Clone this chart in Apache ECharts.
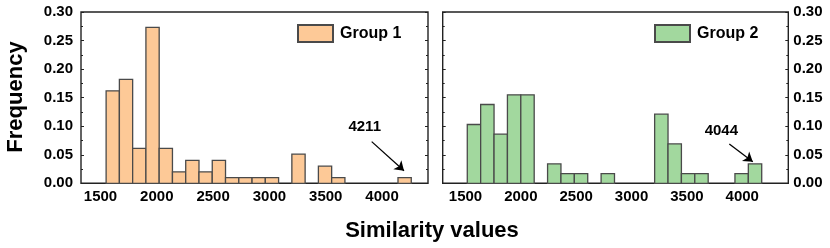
<!DOCTYPE html>
<html>
<head>
<meta charset="utf-8">
<script src="https://cdn.jsdelivr.net/npm/echarts@6/dist/echarts.min.js"></script>
<style>html,body{margin:0;padding:0;background:#fff}#c{width:830px;height:248px}</style>
</head>
<body>
<div id="c"></div>
<script>
// ---- data ----
const group1Name = 'Group 1';
const group2Name = 'Group 2';
const group1BinStart = 1550, group1BinWidth = 117.8;
const group2BinStart = 1516, group2BinWidth = 120.9;
const group1Freq = [0.162, 0.182, 0.061, 0.273, 0.061, 0.020, 0.040, 0.020, 0.040, 0.010, 0.010, 0.010, 0.010, 0, 0.051, 0, 0.030, 0.010, 0, 0, 0, 0, 0.010];
const group2Freq = [0.103, 0.138, 0.086, 0.155, 0.155, 0, 0.034, 0.017, 0.017, 0, 0.017, 0, 0, 0, 0.121, 0.069, 0.017, 0.017, 0, 0, 0.017, 0.034];
const xTicks = [1500, 2000, 2500, 3000, 3500, 4000];
const yTicks = [0, 0.05, 0.10, 0.15, 0.20, 0.25, 0.30];
const group1Outlier = '4211';
const group2Outlier = '4044';
const xTitle = 'Similarity values';
const yTitle = 'Frequency';

// ---- annotation placement (data coords) ----
const ann1 = {text: [3846, 0.0986], from: [3908, 0.073], to: [4195, 0.022]};
const ann2 = {text: [3811, 0.0923], from: [3883, 0.0687], to: [4095, 0.0378]};

const FONT = '"Liberation Sans", Arial, Helvetica, sans-serif';
const C1 = '#FDC997', C2 = '#A2D89E', EDGE = '#4a4a4a';

function bins(start, width, freq) {
  return freq.map((f, i) => [start + i * width, start + (i + 1) * width, f]);
}
function renderBar(fill) {
  return function (params, api) {
    const y = api.value(2);
    if (!y) return null;
    const p0 = api.coord([api.value(0), y]);
    const p1 = api.coord([api.value(1), 0]);
    return {
      type: 'rect',
      shape: {x: p0[0], y: p0[1], width: p1[0] - p0[0], height: p1[1] - p0[1]},
      style: {fill: fill, stroke: EDGE, lineWidth: 1.3}
    };
  };
}
function xAxisFor(gi, min, max) {
  return {
    type: 'value', gridIndex: gi, min: min, max: max,
    axisLine: {show: false}, axisTick: {show: false}, splitLine: {show: false},
    axisLabel: {customValues: xTicks, margin: 6, fontFamily: FONT, fontWeight: 'bold', fontSize: 15, color: '#000',
      formatter: v => String(Math.round(v))}
  };
}
function yAxisFor(gi, pos, labels, margin) {
  return {
    type: 'value', gridIndex: gi, position: pos, min: 0, max: 0.30, interval: 0.05,
    axisLine: {show: false}, splitLine: {show: false},
    axisTick: {show: true, inside: true, length: 3, lineStyle: {color: '#222', width: 1}},
    minorTick: {show: true, splitNumber: 2, length: 2, lineStyle: {color: '#222', width: 1}},
    axisLabel: {show: labels, margin: margin, fontFamily: FONT, fontWeight: 'bold', fontSize: 15, color: '#000',
      formatter: v => v.toFixed(2)}
  };
}
function annotation(a, label) {
  return {
    markLine: {
      silent: true, symbol: ['none', 'arrow'], symbolSize: 9, animation: false,
      lineStyle: {color: '#000', width: 1.3, type: 'solid'},
      label: {show: false},
      data: [[{coord: a.from}, {coord: a.to}]]
    },
    markPoint: {
      silent: true, symbol: 'circle', symbolSize: 1, animation: false,
      itemStyle: {color: 'rgba(0,0,0,0)'},
      label: {show: true, position: 'inside', formatter: label, fontFamily: FONT, fontWeight: 'bold', fontSize: 15, color: '#000'},
      data: [{coord: a.text}]
    }
  };
}

const chart = echarts.init(document.getElementById('c'), null, {renderer: 'canvas'});
chart.setOption({
  animation: false,
  textStyle: {fontFamily: FONT},
  grid: [
    {left: 81, top: 12, width: 347, height: 171.3, show: true, borderColor: '#222', borderWidth: 1.4, backgroundColor: 'transparent'},
    {left: 442.7, top: 12, width: 345.6, height: 171.3, show: true, borderColor: '#222', borderWidth: 1.4, backgroundColor: 'transparent'}
  ],
  xAxis: [xAxisFor(0, 1327, 4408), xAxisFor(1, 1294, 4416)],
  yAxis: [
    yAxisFor(0, 'left', true, 8),
    yAxisFor(0, 'right', false, 8),
    yAxisFor(1, 'left', false, 8),
    yAxisFor(1, 'right', true, 5)
  ],
  legend: [
    {data: [group1Name], left: 297, top: 24, itemWidth: 35, itemHeight: 17, itemGap: 0,
     textStyle: {fontFamily: FONT, fontWeight: 'bold', fontSize: 16, color: '#000', padding: [0, 0, 0, 2]},
     icon: 'rect', padding: 0},
    {data: [group2Name], left: 654, top: 24, itemWidth: 35, itemHeight: 17, itemGap: 0,
     textStyle: {fontFamily: FONT, fontWeight: 'bold', fontSize: 16, color: '#000', padding: [0, 0, 0, 2]},
     icon: 'rect', padding: 0}
  ],
  series: [
    Object.assign({
      name: group1Name, type: 'custom', xAxisIndex: 0, yAxisIndex: 0,
      renderItem: renderBar(C1),
      itemStyle: {color: C1, borderColor: EDGE, borderWidth: 1.3},
      encode: {x: [0, 1], y: 2},
      data: bins(group1BinStart, group1BinWidth, group1Freq)
    }, annotation(ann1, group1Outlier)),
    Object.assign({
      name: group2Name, type: 'custom', xAxisIndex: 1, yAxisIndex: 2,
      renderItem: renderBar(C2),
      itemStyle: {color: C2, borderColor: EDGE, borderWidth: 1.3},
      encode: {x: [0, 1], y: 2},
      data: bins(group2BinStart, group2BinWidth, group2Freq)
    }, annotation(ann2, group2Outlier))
  ],
  graphic: [
    {type: 'text', x: 432, y: 231, style: {text: xTitle, fontFamily: FONT, fontWeight: 'bold', fontSize: 22, fill: '#000', textAlign: 'center', textVerticalAlign: 'middle'}},
    {type: 'text', x: 16, y: 97, rotation: Math.PI / 2, style: {text: yTitle, fontFamily: FONT, fontWeight: 'bold', fontSize: 22, fill: '#000', textAlign: 'center', textVerticalAlign: 'middle'}}
  ]
});
</script>
</body>
</html>
